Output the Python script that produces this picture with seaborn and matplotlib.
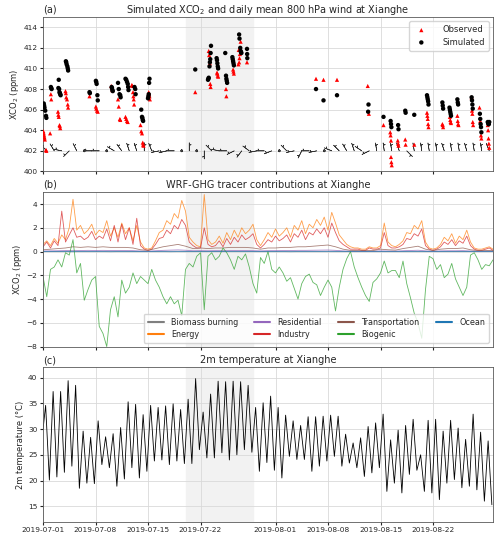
import numpy as np
import pandas as pd
import seaborn as sns
import matplotlib
matplotlib.use("Agg")
import matplotlib.pyplot as plt
import matplotlib.dates as mdates

# ---------------- data ----------------
start = pd.Timestamp("2019-07-01")

# panel (a): XCO2 retrievals, time in days since 2019-07-01
obs_day = [0.05, 0.10, 0.15, 0.20, 0.25, 0.40, 0.45,
           1.05, 1.10, 0.95,
           2.00, 2.05, 2.10, 2.20, 2.25, 2.30,
           3.00, 3.05, 3.10, 3.20, 3.30, 3.35,
           6.20,
           7.05, 7.10, 7.20, 7.30,
           9.10, 9.20, 9.25,
           10.00, 10.10, 10.25, 10.30,
           11.00, 11.10, 11.20, 11.30,
           11.85, 11.90, 12.00, 12.05, 12.10, 12.15,
           13.00, 13.10, 13.20, 13.30, 13.35, 13.40,
           14.10, 14.15, 14.20, 14.25,
           20.30,
           22.10, 22.15, 22.25, 22.30, 22.35,
           23.20, 23.25, 23.30, 23.35,
           24.40, 24.45,
           25.35, 25.40, 25.45,
           26.35, 26.10, 26.25, 26.20, 26.15, 26.05,
           27.20,
           36.40, 37.40, 39.20,
           43.30, 43.45,
           45.40,
           46.30, 46.35, 46.40, 46.40, 46.45, 46.50,
           47.30, 47.35, 47.40,
           48.30, 48.35,
           49.50,
           51.20, 51.25, 51.30, 51.35, 51.40,
           53.25, 53.30, 53.35,
           54.25, 54.30, 54.35, 54.40,
           55.25, 55.30, 55.35, 55.40,
           57.15, 57.20, 57.25, 57.30, 57.35,
           58.20, 58.30, 58.40, 58.45,
           59.30, 59.35, 59.40, 59.45, 59.50]
obs_xco2 = [403.9, 403.7, 403.5, 403.3, 403.1, 402.1, 402.0,
            407.5, 407.0, 403.7,
            405.8, 405.5, 405.3, 404.5, 404.4, 404.2,
            407.8, 407.6, 407.2, 407.0, 406.5, 406.2,
            407.3,
            406.3, 406.1, 405.9, 405.8,
            408.3, 408.1, 407.9,
            407.0, 406.3, 405.1, 405.0,
            405.3, 405.1, 404.9, 404.8,
            408.4, 408.3, 407.7, 407.3, 407.0, 406.5,
            404.5, 403.9, 403.7, 402.8, 402.6, 402.5,
            407.7, 407.5, 407.3, 407.0,
            407.7,
            411.7, 411.3, 410.5, 408.5, 408.2,
            409.6, 409.5, 409.3, 409.2,
            408.0, 407.3,
            409.9, 409.7, 409.5,
            412.6, 411.8, 411.4, 411.0, 410.6, 410.4,
            410.6,
            409.0, 408.9, 408.9,
            408.3, 405.6,
            404.5,
            403.8, 403.5, 403.0, 401.4, 400.9, 400.6,
            403.0, 402.7, 402.5,
            403.1, 402.6,
            402.6,
            405.7, 405.4, 405.1, 404.6, 404.3,
            404.6, 404.5, 404.3,
            405.3, 405.0, 404.8, 404.7,
            405.4, 404.9, 404.6, 404.5,
            407.2, 405.9, 405.6, 404.8, 404.5,
            406.2, 404.9, 403.5, 403.2,
            404.5, 404.0, 403.2, 402.7, 402.3]

sim_day = [0.10, 0.15, 0.20, 0.30, 0.40, 0.45,
           1.05, 1.10, 1.15,
           2.10, 2.05, 2.15, 2.20, 2.25, 2.30, 2.35,
           3.05, 3.10, 3.15, 3.25, 3.30, 3.35,
           6.20, 6.25,
           7.05, 7.10, 7.15, 7.25, 7.30,
           9.15, 9.20, 9.25, 9.30,
           10.00, 10.10, 10.20, 10.30, 10.35,
           11.00, 11.10, 11.20, 11.30, 11.35, 11.40,
           12.20, 12.30, 12.35,
           13.10, 13.20, 13.25, 13.30, 13.35,
           14.20, 14.15, 14.10, 14.05, 14.00,
           20.30,
           22.40, 22.35, 22.30, 22.25, 22.20, 22.10, 22.05, 22.00,
           23.15, 23.20, 23.25, 23.30, 23.35,
           24.30, 24.40, 24.45, 24.50, 24.55,
           25.25, 25.30, 25.35, 25.40, 25.45,
           26.15, 26.20, 26.30, 26.35, 26.40, 26.45,
           27.20, 27.22, 27.24,
           36.40, 37.40, 39.20,
           43.40, 43.35,
           45.40,
           46.35, 46.40, 46.45,
           47.35, 47.40,
           48.30, 48.35,
           49.50,
           51.20, 51.25, 51.30, 51.35, 51.40,
           53.25, 53.30, 53.35,
           54.20, 54.25, 54.30, 54.35, 54.40,
           55.25, 55.30, 55.35,
           57.15, 57.20, 57.25, 57.30,
           58.25, 58.30, 58.35, 58.40, 58.45,
           59.30, 59.35, 59.40, 59.45, 59.50]
sim_xco2 = [406.6, 406.4, 406.2, 405.9, 405.4, 405.2,
            408.2, 408.1, 408.0,
            408.9, 408.1, 408.0, 407.7, 407.6, 407.5, 407.4,
            410.7, 410.6, 410.4, 410.2, 410.0, 409.8,
            407.7, 407.6,
            408.8, 408.7, 408.5, 407.4, 406.9,
            408.2, 408.1, 407.9, 407.8,
            408.6, 408.0, 407.5, 407.4, 407.2,
            409.0, 408.9, 408.7, 408.5, 408.2, 407.9,
            408.2, 408.0, 407.5,
            406.0, 405.3, 405.2, 405.0, 404.9,
            409.0, 408.6, 407.5, 407.3, 407.1,
            409.9,
            412.2, 411.5, 410.9, 410.6, 410.2, 409.1, 409.0, 408.9,
            411.0, 410.8, 410.5, 410.2, 410.0,
            411.5, 409.3, 409.0, 408.8, 408.6,
            411.1, 410.9, 410.7, 410.5, 410.3,
            413.3, 412.9, 412.0, 411.7, 411.6, 411.5,
            411.9, 411.4, 411.0,
            408.0, 406.9, 407.4,
            406.5, 405.8,
            405.3,
            404.9, 404.6, 404.3,
            404.5, 404.1,
            405.9, 405.7,
            405.5,
            407.4, 407.2, 407.0, 406.8, 406.5,
            406.7, 406.4, 406.1,
            406.2, 406.0, 405.8, 405.6, 405.4,
            407.0, 406.7, 406.5,
            407.2, 406.9, 406.5, 406.1,
            405.6, 405.1, 404.6, 404.3, 403.8,
            404.8, 404.7, 404.6, 404.6, 404.8]

# daily mean 800 hPa wind (u, v), one barb per day
wind_u = [4, 3, 5, 3, 2, 1, 5, 4, 1, 5,
          3, 2, 2, 0, 2, 5, 4, 3, 1, 0,
          0.5, 0, 4, 5, 5, 4, 3, 4, 5, 4,
          5, 1, 3, 5, 2, 4, 5, 1, 5, 4,
          3, 2, 3, 4, 1, 1, 1, 2, -3, 1,
          1, 1, 1, 2, 1, 1, 2, 1, 1, 2]
wind_v = [-4, -5, -1, 3, -4, 1, 0, 0, 0, -3,
          -4, -6, -6, -6, -5, 1, 1, 0, 0, -5,
          0.5, 6, -4, -1, 0, 2, 4, -3, 1, 0,
          2, 0, -3, 1, 4, 0, 1, 0, -2, -4,
          -5, -6, -2, 2, -6, -7, -6, -6, 3, -6,
          -7, -6, -7, -6, -5, -6, -7, -6, -6, -5]

# panel (b): tracer contributions, 12-hourly from 2019-07-01 00:00
energy = [0.6, 0.9, 0.5, 1.1, 0.7, 1.4, 1.0, 2.0, 4.4, 1.8,
          2.2, 1.5, 1.8, 2.3, 1.4, 1.8, 1.6, 2.6, 1.3, 2.0,
          1.2, 2.4, 1.5, 2.0, 0.9, 2.2, 0.8, 0.3, 0.2, 0.3,
          0.9, 1.6, 1.8, 2.6, 2.3, 3.2, 2.8, 4.3, 3.4, 1.2,
          0.8, 0.5, 0.4, 4.8, 1.0, 0.6, 0.8, 1.3, 0.7, 1.6,
          1.0, 1.8, 1.2, 2.0, 1.5, 1.8, 2.3, 1.0, 0.5, 1.0,
          1.6, 1.2, 1.9, 1.3, 1.6, 2.0, 1.2, 2.2, 1.8, 2.6,
          1.5, 2.3, 2.0, 2.7, 2.2, 2.9, 1.8, 3.3, 2.4, 1.4,
          1.0, 0.6, 0.4, 0.3, 0.3, 0.2, 0.2, 0.4, 0.3, 0.3,
          0.5, 2.4, 0.8, 0.5, 0.4, 0.6, 0.9, 1.6, 1.5, 2.2,
          1.9, 2.6, 0.8, 0.3, 0.2, 0.3, 0.6, 1.2, 0.9, 1.5,
          0.7, 1.3, 1.0, 1.8, 0.8, 0.3, 0.2, 0.2, 0.3, 0.4,
          0.2]
industry = [0.4, 0.8, 0.3, 0.9, 0.5, 3.4, 0.8, 1.4, 2.0, 1.2,
            1.3, 1.0, 1.2, 1.7, 1.0, 1.3, 1.1, 1.9, 0.9, 2.2,
            0.8, 2.3, 1.0, 2.0, 0.6, 2.8, 0.5, 0.2, 0.1, 0.2,
            0.6, 1.1, 1.2, 1.8, 1.5, 2.2, 1.9, 2.7, 2.2, 0.8,
            0.5, 0.3, 0.3, 2.0, 0.6, 0.4, 0.5, 0.9, 0.4, 1.1,
            0.6, 1.2, 0.8, 1.4, 1.0, 1.2, 1.5, 0.6, 0.3, 0.6,
            1.0, 0.8, 1.3, 0.9, 1.1, 1.4, 0.8, 1.5, 1.2, 1.8,
            1.0, 1.6, 1.4, 1.9, 1.5, 2.0, 1.2, 2.4, 1.6, 0.9,
            0.6, 0.4, 0.2, 0.2, 0.2, 0.1, 0.1, 0.3, 0.2, 0.2,
            0.3, 1.6, 0.5, 0.3, 0.3, 0.4, 0.6, 1.1, 1.0, 1.5,
            1.3, 1.9, 0.5, 0.2, 0.1, 0.2, 0.4, 0.8, 0.6, 1.0,
            0.5, 0.9, 0.7, 1.3, 0.5, 0.2, 0.1, 0.1, 0.2, 0.3,
            0.1]
biogenic = [-2.1, -3.8, -1.5, -1.3, -0.7, -1.3, -0.1, -0.3, 1.0, -1.8,
            -1.0, -4.1, -3.2, -2.4, -2.1, -6.3, -6.9, -8.0, -4.9, -3.8,
            -5.5, -2.4, -3.5, -3.0, -1.8, -2.7, -2.1, -2.4, -2.7, -1.5,
            -2.4, -3.0, -3.8, -4.4, -3.8, -4.4, -4.1, -5.4, -1.5, -1.0,
            -1.3, -0.4, -0.1, -4.9, -0.4, -0.1, -0.7, -0.4, 0.3, -0.1,
            -0.7, -1.5, -0.4, -0.7, -0.2, -1.3, -2.7, -3.5, -0.5, -1.0,
            0.0, -1.5, -1.8, -1.3, -1.8, -2.5, -2.2, -3.1, -4.0, -2.7,
            -2.1, -1.9, -2.6, -2.8, -3.7, -3.0, -2.4, -3.0, -5.0, -3.0,
            -1.5, -0.6, 0.0, -1.3, -2.2, -3.0, -3.7, -4.2, -2.6, -2.3,
            -1.8, -0.8, -1.8, -1.6, -1.6, -2.2, -0.8, -2.7, -3.9, -5.2,
            -6.0, -7.3, -3.2, -0.4, -0.6, -1.5, -1.1, -2.2, -1.9, -1.0,
            -2.3, -3.0, -3.7, -3.0, -0.3, -0.1, -0.7, -1.5, -1.1, -1.2,
            -0.7]
# daily values for the small tracers
transport = [0.15, 0.20, 0.25, 0.30, 0.40, 0.35, 0.40, 0.35, 0.40, 0.35,
             0.35, 0.35, 0.30, 0.15, 0.10, 0.25, 0.40, 0.50, 0.60, 0.45,
             0.25, 0.30, 0.25, 0.30, 0.30, 0.35, 0.35, 0.35, 0.30, 0.20,
             0.30, 0.30, 0.35, 0.35, 0.40, 0.40, 0.45, 0.50, 0.55, 0.40,
             0.20, 0.10, 0.08, 0.08, 0.08, 0.20, 0.15, 0.12, 0.25, 0.35,
             0.45, 0.20, 0.08, 0.20, 0.25, 0.25, 0.30, 0.15, 0.08, 0.10,
             0.08]
residential = [0.05, 0.06, 0.07, 0.08, 0.10, 0.09, 0.10, 0.09, 0.10, 0.09,
               0.09, 0.09, 0.08, 0.05, 0.04, 0.07, 0.10, 0.12, 0.14, 0.11,
               0.07, 0.08, 0.07, 0.08, 0.08, 0.09, 0.09, 0.09, 0.08, 0.06,
               0.08, 0.08, 0.09, 0.09, 0.10, 0.10, 0.11, 0.12, 0.13, 0.10,
               0.06, 0.04, 0.03, 0.03, 0.03, 0.06, 0.05, 0.04, 0.07, 0.09,
               0.11, 0.06, 0.03, 0.06, 0.07, 0.07, 0.08, 0.05, 0.03, 0.04,
               0.03]
biomass = [0.01, 0.01, 0.01, 0.02, 0.02, 0.02, 0.02, 0.02, 0.02, 0.02,
           0.02, 0.02, 0.01, 0.01, 0.01, 0.01, 0.02, 0.02, 0.03, 0.02,
           0.01, 0.01, 0.01, 0.01, 0.01, 0.02, 0.02, 0.02, 0.01, 0.01,
           0.01, 0.01, 0.02, 0.02, 0.02, 0.02, 0.02, 0.02, 0.03, 0.02,
           0.01, 0.01, 0.00, 0.00, 0.00, 0.01, 0.01, 0.01, 0.01, 0.02,
           0.02, 0.01, 0.00, 0.01, 0.01, 0.01, 0.01, 0.01, 0.00, 0.00,
           0.00]
ocean = [0.00, 0.00, 0.00, 0.00, -0.01, 0.00, 0.00, 0.00, 0.00, -0.01,
         0.00, 0.00, 0.00, 0.00, 0.00, 0.00, 0.00, -0.01, 0.00, 0.00,
         0.00, 0.00, 0.00, 0.00, 0.00, 0.00, 0.00, 0.00, 0.00, 0.00,
         0.00, 0.00, 0.00, -0.01, 0.00, 0.00, 0.00, 0.00, 0.00, 0.00,
         0.00, 0.00, 0.00, 0.00, 0.00, 0.00, 0.00, 0.00, 0.00, 0.00,
         0.00, 0.00, 0.00, 0.00, 0.00, 0.00, 0.00, 0.00, 0.00, 0.00,
         0.00]

# panel (c): daily maximum / minimum 2 m temperature (degC)
t2m_first = 29.9
t2m_max = [34.6, 37.3, 37.3, 39.4, 38.5, 29.6, 28.4, 31.6, 28.5, 29.1,
           30.3, 35.3, 34.8, 32.8, 34.6, 34.2, 34.5, 34.9, 33.8, 35.8,
           39.8, 33.3, 36.8, 39.3, 39.2, 39.3, 39.2, 38.5, 34.2, 35.1,
           36.4, 34.2, 32.7, 31.6, 30.7, 32.4, 32.4, 32.5, 32.7, 32.5,
           29.0, 27.3, 28.3, 30.5, 31.2, 32.9, 27.9, 29.8, 30.7, 31.9,
           25.0, 31.7, 31.9, 29.6, 31.7, 30.2, 28.0, 32.9, 29.4, 27.7]
t2m_min = [20.1, 20.7, 21.6, 22.8, 18.5, 19.5, 19.4, 23.1, 22.5, 18.9,
           20.3, 22.5, 20.5, 21.8, 23.8, 24.0, 23.1, 23.8, 23.3, 23.3,
           26.0, 24.4, 24.4, 25.4, 24.0, 25.0, 26.0, 25.5, 21.8, 23.5,
           22.0, 20.5, 24.7, 24.1, 24.1, 21.8, 22.8, 23.8, 24.7, 22.8,
           23.4, 22.5, 20.8, 21.5, 22.5, 17.9, 19.5, 17.6, 21.2, 22.0,
           17.9, 17.6, 16.3, 19.5, 20.2, 18.6, 18.9, 18.2, 16.0, 15.3]

# ---------------- style ----------------
sns.set_style("whitegrid", {"axes.edgecolor": "0.35", "grid.color": "0.85",
                            "xtick.bottom": True, "ytick.left": True})
plt.rcParams["font.family"] = ["DejaVu Sans"]
plt.rcParams["xtick.labelsize"] = 5.3
plt.rcParams["ytick.labelsize"] = 5.3
plt.rcParams["xtick.major.size"] = 2.5
plt.rcParams["ytick.major.size"] = 2.5
plt.rcParams["xtick.major.pad"] = 1.5
plt.rcParams["ytick.major.pad"] = 1.5
plt.rcParams["axes.linewidth"] = 0.6
plt.rcParams["grid.linewidth"] = 0.6

fig, (ax1, ax2, ax3) = plt.subplots(3, 1, figsize=(5.0, 5.39), dpi=100, sharex=True)
fig.subplots_adjust(left=0.086, right=0.986, top=0.9685, bottom=0.032, hspace=0.134)

shade0 = pd.Timestamp("2019-07-20")
shade1 = pd.Timestamp("2019-07-29")
shade_col = "#f2f2f2"

def days_to_time(d):
    return start + pd.to_timedelta(np.asarray(d, dtype=float), unit="D")

# ---- (a) XCO2 + wind ----
ax1.axvspan(shade0, shade1, color=shade_col, zorder=0)
sns.scatterplot(x=days_to_time(obs_day), y=obs_xco2, ax=ax1, marker="^", color="red",
                s=9, edgecolor="none", label="Observed", zorder=3)
sns.scatterplot(x=days_to_time(sim_day), y=sim_xco2, ax=ax1, marker="o", color="black",
                s=10, edgecolor="none", label="Simulated", zorder=4)
wind_x = mdates.date2num(days_to_time(np.arange(len(wind_u)) + 0.5))
ax1.barbs(wind_x, np.full(len(wind_u), 402.0), wind_u, wind_v, length=3.4,
          linewidth=0.45, color="0.2", sizes=dict(emptybarb=0.12, spacing=0.2, height=0.45))
ax1.set_ylim(400, 415)
ax1.set_yticks(np.arange(400, 415, 2))
ax1.set_ylabel("XCO$_2$ (ppm)", fontsize=6, labelpad=2)
ax1.set_title("Simulated XCO$_2$ and daily mean 800 hPa wind at Xianghe", fontsize=7, pad=3)
ax1.set_title("(a)", loc="left", fontsize=7, pad=3)
ax1.legend(loc="upper right", fontsize=6, markerscale=1.0, handletextpad=1.5,
           borderpad=0.5, labelspacing=0.4)

# ---- (b) tracers ----
t12 = pd.date_range("2019-07-01", periods=len(energy), freq="12h")
t24 = pd.date_range("2019-07-01", periods=len(transport), freq="24h")
ax2.axvspan(shade0, shade1, color=shade_col, zorder=0)
tracer_lines = [
    ("Biomass burning", t24, biomass, "tab:gray"),
    ("Energy", t12, energy, "tab:orange"),
    ("Residential", t24, residential, "tab:purple"),
    ("Industry", t12, industry, "tab:red"),
    ("Transportation", t24, transport, "tab:brown"),
    ("Biogenic", t12, biogenic, "tab:green"),
    ("Ocean", t24, ocean, "tab:blue"),
]
for name, tt, vals, col in tracer_lines:
    sns.lineplot(x=tt, y=vals, ax=ax2, color=col, lw=0.6, alpha=0.75, label=name)
ax2.set_ylim(-8, 5)
ax2.set_yticks(np.arange(-8, 5, 2))
ax2.set_ylabel("XCO$_2$ (ppm)", fontsize=6, labelpad=2)
ax2.set_title("WRF-GHG tracer contributions at Xianghe", fontsize=7, pad=3)
ax2.set_title("(b)", loc="left", fontsize=7, pad=3)
leg = ax2.legend(loc="lower right", ncol=4, fontsize=5.8, borderpad=0.5,
                 labelspacing=0.35, columnspacing=2.0, handletextpad=0.9)
for ln in leg.get_lines():
    ln.set_linewidth(1.5)
    ln.set_alpha(1.0)

# ---- (c) 2 m temperature ----
ax3.axvspan(shade0, shade1, color=shade_col, zorder=0)
days = np.arange(len(t2m_max))
t2m_days = np.concatenate([[0.0], np.column_stack([days + 0.35, days + 0.85]).ravel()])
t2m_vals = np.concatenate([[t2m_first], np.column_stack([t2m_max, t2m_min]).ravel()])
sns.lineplot(x=days_to_time(t2m_days), y=t2m_vals, ax=ax3, color="black", lw=0.6)
ax3.set_ylim(12, 42)
ax3.set_yticks(np.arange(15, 41, 5))
ax3.set_ylabel("2m temperature (°C)", fontsize=6, labelpad=2)
ax3.set_title("2m temperature at Xianghe", fontsize=7, pad=3)
ax3.set_title("(c)", loc="left", fontsize=7, pad=3)

ax3.set_xlim(pd.Timestamp("2019-07-01"), pd.Timestamp("2019-08-30"))
ax3.xaxis.set_major_locator(mdates.DayLocator(bymonthday=[1, 8, 15, 22]))
ax3.xaxis.set_major_formatter(mdates.DateFormatter("%Y-%m-%d"))
for ax in (ax1, ax2, ax3):
    ax.set_xlabel("")

fig.savefig("out.png", dpi=100)
